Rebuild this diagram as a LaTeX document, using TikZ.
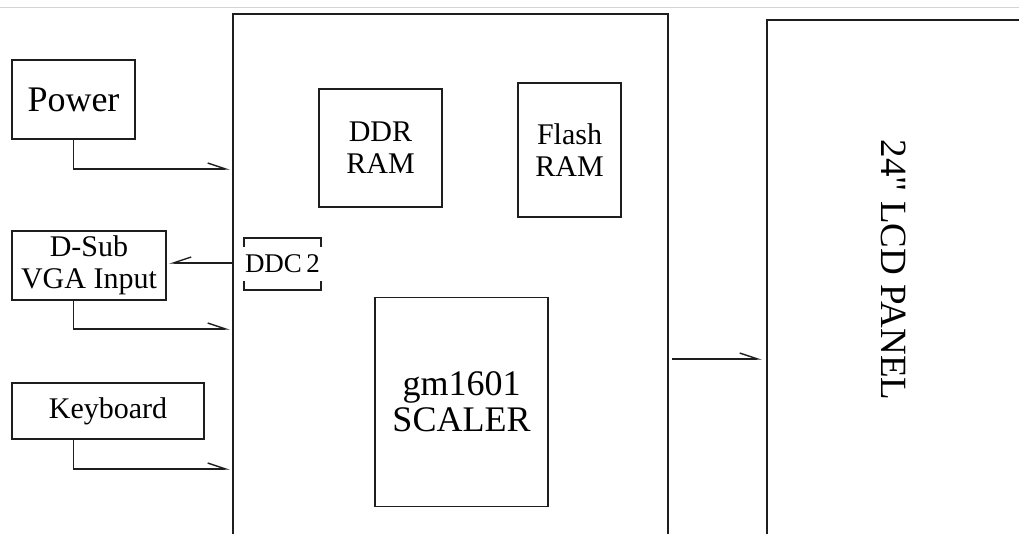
\documentclass[tikz,border=0pt]{standalone}
\usepackage{fontspec}
\setmainfont{Liberation Serif}
\newfontfamily\plainserif{Liberation Serif}
\usetikzlibrary{arrows.meta, positioning}
\definecolor{cline}{HTML}{1E1E1E}
\definecolor{crule}{HTML}{D4D4D4}
\tikzset{
  every picture/.style={line width=1.8pt, draw=cline},
  box/.style={draw=cline, align=center, inner sep=0pt, font=\fontsize{30}{32}\selectfont},
  arrow/.style={-{Straight Barb[harpoon, length=18pt, width=12pt, line width=1.4pt]}, draw=cline},
  arrowback/.style={-{Straight Barb[harpoon, swap, length=18pt, width=12pt, line width=1.4pt]}, draw=cline},
}

\begin{document}
\begin{tikzpicture}[x=1pt, y=-1pt]
  \useasboundingbox (0,0) rectangle (1019,534);
  \draw[crule, line width=1pt] (0,8) -- (1019,8);
  % main board and panel, both run off the bottom edge
  \node[box, anchor=north west, minimum width=435, minimum height=580] (board) at (232,13) {};
  \node[box, anchor=north west, minimum width=300, minimum height=580] (lcd) at (766,19) {};
  \node[font=\plainserif\fontsize{37}{40}\selectfont, rotate=-90] (lcdtxt) at (894,270) {24" LCD PANEL};
  % inputs
  \node[box, minimum width=123, minimum height=79, font=\fontsize{36}{38}\selectfont] (power) at (73.5,99.5) {Power};
  \node[box, minimum width=154, minimum height=69] (dsub) at (89,265.5) {D-Sub\\VGA Input};
  \node[box, minimum width=192, minimum height=56] (kbd) at (108,411) {Keyboard};
  % parts on the board
  \node[box, minimum width=123, minimum height=118] (ddr) at (380.5,148) {DDR\\RAM};
  \node[box, minimum width=103, minimum height=134] (flash) at (569.5,150) {Flash\\RAM};
  \node[box, minimum width=173, minimum height=209, font=\fontsize{36}{36}\selectfont] (scaler) at (461.5,402) {gm1601\\SCALER};
  \node[box, draw=none, minimum width=75, minimum height=50, font=\fontsize{27}{30}\selectfont] (ddc) at (282.5,264) {DDC\,2};
  \draw ([yshift=-9pt]ddc.north west) -- (ddc.north west) -- (ddc.north east) -- ([yshift=-9pt]ddc.north east);
  \draw ([yshift=9pt]ddc.south west) -- (ddc.south west) -- (ddc.south east) -- ([yshift=9pt]ddc.south east);
  % connectors
  \coordinate (inpower) at (230,169);
  \coordinate (invga) at (230,329);
  \coordinate (inkbd) at (230,469);
  \coordinate (ddcout) at (232,263);
  \coordinate (vidout) at (672,359);
  \draw[arrow] (power.south) |- (inpower);
  \draw[arrow] (dsub.south -| power.south) |- (invga);
  \draw[arrow] (kbd.south -| power.south) |- (inkbd);
  \draw[arrowback] (ddcout) -- ([xshift=2pt]dsub.east |- ddcout);
  \draw[arrow] (vidout) -- ([xshift=-4pt]lcd.west |- vidout);
\end{tikzpicture}
\end{document}
